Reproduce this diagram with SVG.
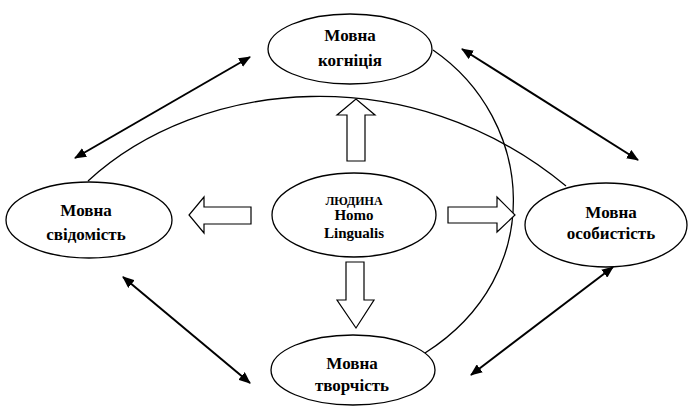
<svg xmlns="http://www.w3.org/2000/svg" width="689" height="408" viewBox="0 0 689 408">
  <defs>
    <marker id="head" viewBox="0 0 12 10" refX="11" refY="5" markerWidth="12" markerHeight="10" markerUnits="userSpaceOnUse" orient="auto-start-reverse">
      <path d="M0,0 L12,5 L0,10 Z" fill="#000"/>
    </marker>
  </defs>
  <style>
    .node ellipse { fill: #fff; stroke: #000; stroke-width: 1.3; }
    .label { font-family: "Liberation Serif", "Times New Roman", serif; font-weight: bold; font-size: 17px; fill: #000; text-anchor: middle; }
    .latin { font-size: 15px; }
    .small { font-size: 12px; }
    .curve { fill: none; stroke: #000; stroke-width: 1.3; }
    .link { fill: none; stroke: #000; stroke-width: 2; marker-start: url(#head); marker-end: url(#head); }
    .block { fill: #fff; stroke: #000; stroke-width: 1.2; stroke-linejoin: miter; }
  </style>

  <rect width="689" height="408" fill="#fff"/>

  <g id="connectors">
    <!-- long arcs linking the outer ellipses -->
    <path class="curve" d="M88,181 C200,78 410,57 566,186"/>
    <path class="curve" d="M433,50 C535,120 548,275 425,353"/>
    <!-- two-way arrows between neighbouring outer nodes -->
    <line class="link" x1="75" y1="158" x2="250" y2="57"/>
    <line class="link" x1="462" y1="49" x2="638" y2="160"/>
    <line class="link" x1="123" y1="277" x2="250" y2="383"/>
    <line class="link" x1="613" y1="267" x2="471" y2="375"/>
    <!-- hollow block arrows from the centre -->
    <path class="block" d="M347,161 L347,115 L337,115 L356,99 L375,115 L365,115 L365,161 Z"/>
    <path class="block" d="M346,262 L364,262 L364,300 L374,300 L356,328 L337,300 L346,300 Z"/>
    <path class="block" d="M251,207 L204,207 L204,197 L189,215 L204,233 L204,224 L251,224 Z"/>
    <path class="block" d="M448,207 L497,207 L497,197 L515,215 L497,232 L497,223 L448,223 Z"/>
  </g>

  <g id="node-cognition" class="node">
    <ellipse cx="350" cy="49" rx="82" ry="35"/>
    <text class="label" x="350" y="41">Мовна</text>
    <text class="label" x="350" y="66">когніція</text>
  </g>

  <g id="node-human" class="node">
    <ellipse cx="354" cy="215" rx="82" ry="42"/>
    <text class="label small" x="354" y="205">ЛЮДИНА</text>
    <text class="label latin" x="354" y="220">Homo</text>
    <text class="label latin" x="354" y="238">Lingualis</text>
  </g>

  <g id="node-consciousness" class="node">
    <ellipse cx="89" cy="220" rx="83" ry="38"/>
    <text class="label" x="86" y="216">Мовна</text>
    <text class="label" x="86" y="240">свідомість</text>
  </g>

  <g id="node-personality" class="node">
    <ellipse cx="606" cy="225" rx="81" ry="42"/>
    <text class="label" x="611" y="218">Мовна</text>
    <text class="label" x="611" y="239">особистість</text>
  </g>

  <g id="node-creativity" class="node">
    <ellipse cx="353" cy="370" rx="82" ry="35"/>
    <text class="label" x="352" y="369">Мовна</text>
    <text class="label" x="352" y="391">творчість</text>
  </g>
</svg>
